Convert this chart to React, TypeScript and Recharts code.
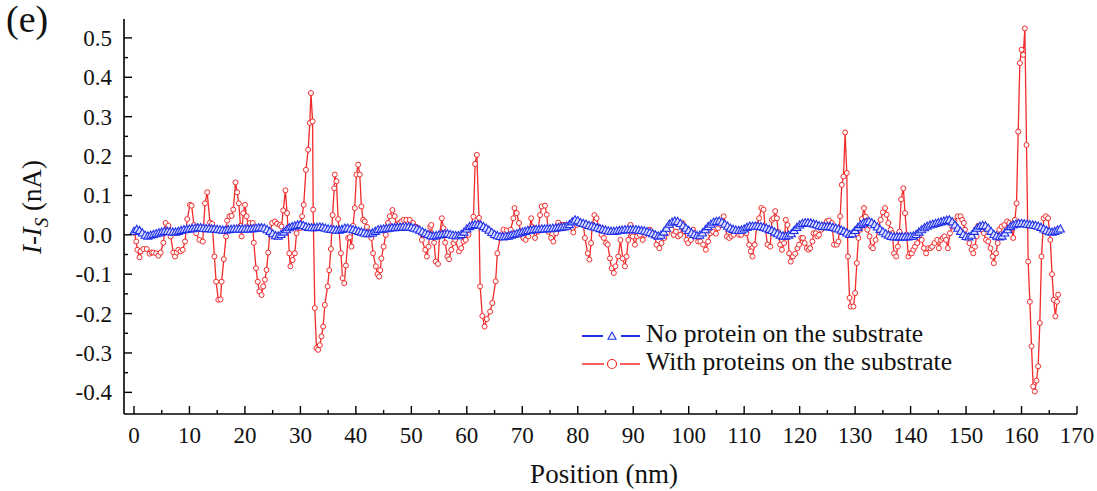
import React from "react";
import { LineChart, Line, XAxis, YAxis, Legend } from "recharts";

const RED = "#f22b2b";
const BLUE = "#2030ea";
const SERIF = "'Liberation Serif', 'DejaVu Serif', serif";
const txt = { fontFamily: SERIF, fill: "#111" };

const xTicks = [0, 5, 10, 15, 20, 25, 30, 35, 40, 45, 50, 55, 60, 65, 70, 75, 80, 85, 90, 95, 100, 105, 110, 115, 120, 125, 130, 135, 140, 145, 150, 155, 160, 165, 170];
const yTicks = [-0.4, -0.35, -0.3, -0.25, -0.2, -0.15, -0.1, -0.05, 0, 0.05, 0.1, 0.15, 0.2, 0.25, 0.3, 0.35, 0.4, 0.45, 0.5];

const seriesNames = ["No protein on the substrate", "With proteins on the substrate"];

// with proteins: [position nm, current nA]
const redPoints: [number, number][] = [
  [0.1, 0.005], [0.4, -0.017], [0.6, -0.038], [1.0, -0.057], [1.2, -0.042], [1.7, -0.036], [2.3, -0.036], [2.8, -0.048],
  [3.2, -0.045], [3.5, -0.045], [4.0, -0.047], [4.4, -0.053], [4.8, -0.045], [5.3, -0.02], [5.7, 0.03], [6.2, 0.023],
  [6.6, -0.004], [7.1, -0.045], [7.4, -0.055], [7.7, -0.045], [8.0, -0.038], [8.4, -0.042], [8.8, -0.038], [9.2, -0.017],
  [9.6, 0.04], [10.1, 0.076], [10.4, 0.074], [10.8, 0.025], [11.2, 0.004], [11.8, -0.013], [12.4, -0.017], [12.8, 0.08],
  [13.2, 0.108], [13.7, 0.031], [14.1, 0.028], [14.5, -0.055], [14.8, -0.119], [15.2, -0.165], [15.6, -0.164], [15.8, -0.119],
  [16.2, -0.062], [16.6, -0.004], [16.8, 0.036], [17.2, 0.047], [17.6, 0.048], [17.9, 0.064], [18.3, 0.133], [18.6, 0.108],
  [18.9, 0.08], [19.2, 0.023], [19.4, -0.004], [19.7, 0.055], [20.0, 0.076], [20.3, 0.047], [20.6, 0.023], [20.9, 0.03],
  [21.4, 0.03], [21.6, -0.02], [22.0, -0.085], [22.3, -0.119], [22.6, -0.144], [23.0, -0.153], [23.3, -0.131], [23.6, -0.114],
  [23.9, -0.089], [24.2, -0.045], [24.5, 0.004], [24.9, 0.03], [25.4, 0.034], [25.8, 0.028], [26.3, 0.025], [26.6, 0.021],
  [26.9, 0.062], [27.3, 0.113], [27.6, 0.055], [28.0, -0.047], [28.2, -0.08], [28.6, -0.064], [29.0, -0.047], [29.3, 0.004],
  [29.9, 0.017], [30.3, 0.047], [30.6, 0.076], [31.0, 0.165], [31.4, 0.216], [31.7, 0.284], [31.9, 0.36], [32.2, 0.288],
  [32.3, 0.064], [32.6, -0.186], [32.9, -0.288], [33.2, -0.292], [33.5, -0.28], [33.8, -0.258], [34.1, -0.233], [34.4, -0.178],
  [34.9, -0.131], [35.2, -0.09], [35.5, -0.036], [35.8, 0.05], [36.1, 0.118], [36.2, 0.153], [36.5, 0.136], [36.8, 0.04],
  [37.3, -0.047], [37.6, -0.11], [37.9, -0.123], [38.2, -0.078], [38.6, -0.008], [38.9, -0.006], [39.2, -0.03], [39.5, 0.023],
  [39.8, 0.068], [40.1, 0.153], [40.4, 0.178], [40.7, 0.153], [41.0, 0.072], [41.3, 0.038], [41.6, 0.034], [42.0, 0.02],
  [42.4, 0.005], [42.8, -0.008], [43.1, -0.047], [43.6, -0.08], [43.9, -0.1], [44.2, -0.106], [44.4, -0.09], [44.6, -0.06],
  [45.0, -0.03], [45.4, 0.0], [45.8, 0.03], [46.1, 0.047], [46.6, 0.063], [47.0, 0.047], [47.3, 0.025], [47.8, 0.03],
  [48.2, 0.034], [48.6, 0.038], [49.1, 0.038], [49.7, 0.038], [50.3, 0.03], [50.9, 0.02], [51.5, 0.008], [51.9, -0.013],
  [52.5, -0.038], [52.8, -0.055], [53.1, -0.03], [53.4, 0.02], [53.6, 0.025], [53.8, 0.0], [54.1, -0.02], [54.4, -0.068],
  [54.8, -0.074], [55.1, 0.0], [55.5, 0.042], [55.8, 0.017], [56.1, -0.02], [56.5, -0.055], [56.8, -0.062], [57.2, -0.038],
  [57.6, -0.021], [57.9, -0.013], [58.6, -0.042], [59.0, -0.034], [59.4, -0.017], [59.8, -0.013], [60.3, 0.0], [60.6, 0.02],
  [61.2, 0.046], [61.5, 0.18], [61.8, 0.203], [62.2, 0.043], [62.4, -0.131], [62.8, -0.206], [63.2, -0.233], [63.6, -0.214],
  [64.2, -0.195], [64.6, -0.173], [65.2, -0.118], [65.5, -0.047], [66.0, -0.008], [66.6, 0.013], [67.2, 0.011], [67.9, 0.013],
  [68.4, 0.042], [68.6, 0.068], [69.0, 0.055], [69.4, 0.03], [69.8, 0.0], [70.2, -0.008], [70.6, -0.013], [71.1, -0.004],
  [71.6, 0.042], [71.8, 0.02], [72.3, -0.008], [72.8, 0.008], [73.2, 0.05], [73.5, 0.072], [74.1, 0.074], [74.4, 0.051],
  [74.7, 0.008], [75.2, -0.008], [75.6, -0.017], [76.1, 0.004], [76.5, 0.031], [77.0, 0.025], [77.4, 0.025], [77.7, 0.025],
  [78.3, 0.021], [79.2, 0.006], [79.8, 0.025], [80.4, 0.03], [81.0, 0.025], [81.3, -0.008], [81.8, -0.047], [82.1, -0.063],
  [82.4, -0.021], [82.6, 0.025], [83.0, 0.05], [83.4, 0.042], [83.8, 0.02], [84.3, 0.0], [84.7, -0.008], [85.1, -0.021],
  [85.4, -0.025], [85.8, -0.06], [86.1, -0.085], [86.5, -0.097], [86.8, -0.08], [87.3, -0.055], [87.7, -0.013], [88.1, -0.06],
  [88.5, -0.08], [88.8, -0.055], [89.1, -0.013], [89.5, 0.025], [89.9, -0.004], [90.3, -0.025], [90.7, -0.004], [91.2, 0.0],
  [91.7, -0.013], [92.1, 0.0], [92.5, 0.008], [93.0, 0.013], [93.5, 0.004], [93.9, -0.004], [94.2, -0.025], [94.7, -0.034],
  [95.1, -0.021], [95.6, -0.008], [96.1, 0.004], [96.5, 0.017], [96.9, 0.013], [97.3, 0.0], [97.7, 0.008], [98.1, -0.004],
  [98.5, 0.0], [98.9, 0.03], [99.3, 0.008], [99.6, -0.013], [99.9, -0.021], [100.4, -0.013], [100.8, 0.013], [101.3, 0.0],
  [101.7, -0.017], [102.1, -0.017], [102.6, -0.025], [103.1, -0.038], [103.5, -0.017], [103.9, 0.004], [104.4, 0.008], [104.9, 0.003],
  [105.3, 0.017], [105.8, 0.025], [106.3, 0.047], [106.6, 0.025], [106.9, -0.004], [107.3, -0.008], [107.7, -0.003], [108.1, 0.0],
  [108.6, 0.008], [109.1, 0.0], [109.5, 0.0], [109.9, 0.008], [110.4, 0.004], [110.9, -0.025], [111.2, -0.042], [111.5, -0.055],
  [111.9, -0.025], [112.3, 0.025], [112.7, 0.042], [113.1, 0.068], [113.5, 0.064], [113.8, 0.017], [114.2, -0.025], [114.7, -0.03],
  [115.0, 0.038], [115.3, 0.042], [115.6, 0.06], [115.9, 0.042], [116.1, 0.008], [116.5, -0.025], [116.8, -0.038], [117.2, -0.021],
  [117.5, 0.038], [117.8, 0.025], [118.1, -0.047], [118.4, -0.068], [118.8, -0.055], [119.2, -0.048], [119.6, -0.034], [119.9, -0.025],
  [120.3, -0.008], [120.6, -0.008], [120.9, -0.021], [121.3, -0.034], [121.6, -0.038], [121.9, -0.034], [122.3, -0.017], [122.5, 0.004],
  [122.9, 0.004], [123.2, -0.004], [123.5, 0.0], [123.9, 0.013], [124.4, 0.025], [124.9, 0.034], [125.3, 0.036], [125.8, 0.03],
  [126.2, -0.025], [126.7, -0.025], [127.0, -0.017], [127.3, 0.047], [127.6, 0.127], [127.9, 0.148], [128.2, 0.26], [128.5, 0.157],
  [128.7, -0.055], [129.0, -0.16], [129.2, -0.182], [129.7, -0.182], [130.0, -0.148], [130.3, -0.072], [130.6, -0.008], [130.9, 0.013],
  [131.2, 0.04], [131.6, 0.068], [131.9, 0.046], [132.2, 0.013], [132.6, -0.004], [132.9, -0.03], [133.2, -0.034], [133.7, -0.013],
  [134.2, 0.017], [134.6, 0.038], [135.0, 0.057], [135.4, 0.068], [135.7, 0.051], [136.0, 0.03], [136.4, 0.013], [136.7, 0.004],
  [137.0, -0.047], [137.4, -0.055], [137.7, -0.03], [138.0, 0.008], [138.3, 0.09], [138.7, 0.118], [139.0, 0.055], [139.3, 0.0],
  [139.6, -0.055], [139.9, -0.047], [140.2, -0.047], [140.5, -0.038], [140.8, -0.03], [141.2, -0.021], [141.6, -0.008], [142.0, -0.013],
  [142.4, -0.034], [142.8, -0.047], [143.2, -0.034], [143.6, -0.034], [143.9, -0.03], [144.3, -0.021], [144.8, -0.013], [145.1, -0.034],
  [145.5, -0.013], [145.8, -0.008], [146.1, -0.004], [146.4, -0.013], [146.7, -0.034], [147.1, 0.004], [147.5, 0.021], [147.9, 0.034],
  [148.5, 0.047], [149.0, 0.047], [149.3, 0.038], [149.6, 0.03], [149.8, 0.013], [150.2, -0.004], [150.6, -0.021], [151.0, -0.038],
  [151.3, -0.047], [151.6, -0.03], [151.9, -0.004], [152.2, 0.023], [152.5, 0.021], [152.8, 0.013], [153.2, 0.004], [153.6, -0.013],
  [154.0, -0.017], [154.4, -0.034], [154.8, -0.055], [155.0, -0.072], [155.4, -0.047], [155.7, -0.021], [156.0, 0.013], [156.4, 0.021],
  [156.9, 0.025], [157.4, 0.034], [157.8, 0.03], [158.2, 0.017], [158.5, -0.008], [158.8, 0.038], [159.1, 0.08], [159.4, 0.262],
  [159.7, 0.436], [160.0, 0.47], [160.3, 0.457], [160.6, 0.524], [160.9, 0.228], [161.2, -0.068], [161.5, -0.17], [161.8, -0.283],
  [162.1, -0.385], [162.4, -0.398], [162.7, -0.37], [163.0, -0.334], [163.3, -0.224], [163.6, -0.055], [164.0, 0.042], [164.4, 0.047],
  [164.8, 0.042], [165.2, -0.013], [165.5, -0.1], [165.8, -0.165], [166.1, -0.207], [166.4, -0.17], [166.6, -0.152],
];

// no protein: sampled every 0.5 nm from 0 to 167
const BLUE_STEP = 0.5;
const blueValues = [
  0.008, 0.013, 0.01, 0.004, -0.002, -0.004, -0.002, 0.0, 0.002, 0.004, 0.006, 0.008, 0.008, 0.007, 0.006, 0.006, 0.008, 0.01, 0.012, 0.013,
  0.014, 0.015, 0.016, 0.017, 0.017, 0.016, 0.015, 0.015, 0.014, 0.014, 0.013, 0.012, 0.011, 0.011, 0.012, 0.013, 0.014, 0.014, 0.014, 0.014,
  0.014, 0.014, 0.014, 0.015, 0.016, 0.017, 0.017, 0.016, 0.012, 0.008, 0.002, -0.003, -0.004, 0.0, 0.006, 0.012, 0.017, 0.02, 0.022, 0.024,
  0.025, 0.023, 0.02, 0.018, 0.017, 0.017, 0.018, 0.019, 0.018, 0.016, 0.014, 0.013, 0.012, 0.011, 0.011, 0.013, 0.016, 0.016, 0.014, 0.012,
  0.01, 0.008, 0.006, 0.004, 0.002, 0.002, 0.004, 0.008, 0.012, 0.013, 0.014, 0.015, 0.016, 0.017, 0.017, 0.018, 0.018, 0.019, 0.019, 0.019,
  0.018, 0.016, 0.014, 0.011, 0.007, 0.003, 0.0, -0.003, -0.004, -0.003, -0.001, 0.0, 0.001, 0.002, 0.0, -0.002, -0.003, -0.003, 0.0, 0.006,
  0.014, 0.02, 0.023, 0.025, 0.025, 0.024, 0.02, 0.016, 0.011, 0.005, 0.0, -0.003, -0.005, -0.006, -0.005, -0.004, -0.002, 0.0, 0.002, 0.004,
  0.006, 0.008, 0.01, 0.011, 0.012, 0.013, 0.013, 0.014, 0.014, 0.015, 0.015, 0.016, 0.016, 0.017, 0.018, 0.019, 0.021, 0.025, 0.032, 0.037,
  0.035, 0.03, 0.028, 0.026, 0.023, 0.021, 0.019, 0.017, 0.015, 0.013, 0.011, 0.009, 0.008, 0.008, 0.009, 0.01, 0.011, 0.012, 0.012, 0.012,
  0.012, 0.012, 0.011, 0.01, 0.009, 0.007, 0.005, 0.002, -0.001, -0.004, -0.002, 0.006, 0.016, 0.026, 0.031, 0.034, 0.033, 0.028, 0.022, 0.016,
  0.01, 0.004, 0.0, -0.003, -0.002, 0.004, 0.012, 0.02, 0.026, 0.031, 0.033, 0.034, 0.031, 0.026, 0.021, 0.016, 0.013, 0.011, 0.01, 0.011,
  0.014, 0.018, 0.021, 0.021, 0.021, 0.021, 0.02, 0.018, 0.016, 0.013, 0.01, 0.006, 0.002, -0.002, -0.004, -0.004, -0.002, 0.002, 0.01, 0.018,
  0.024, 0.028, 0.03, 0.03, 0.029, 0.027, 0.025, 0.022, 0.021, 0.02, 0.02, 0.02, 0.018, 0.016, 0.014, 0.011, 0.008, 0.004, 0.0, 0.002,
  0.01, 0.018, 0.025, 0.029, 0.031, 0.033, 0.03, 0.025, 0.019, 0.013, 0.007, 0.002, -0.002, -0.005, -0.006, -0.006, -0.006, -0.006, -0.006, -0.006,
  -0.005, -0.004, 0.0, 0.006, 0.012, 0.017, 0.021, 0.024, 0.026, 0.028, 0.03, 0.032, 0.034, 0.036, 0.037, 0.032, 0.024, 0.016, 0.008, 0.0,
  -0.005, -0.006, -0.002, 0.008, 0.016, 0.021, 0.023, 0.022, 0.016, 0.008, 0.0, -0.004, -0.006, -0.004, 0.004, 0.012, 0.02, 0.024, 0.026, 0.028,
  0.028, 0.027, 0.026, 0.025, 0.024, 0.023, 0.021, 0.018, 0.014, 0.01, 0.007, 0.006, 0.008, 0.011, 0.014,
];

const redData = redPoints.map(([x, y]) => ({ x, y }));
const blueData = blueValues.map((y, i) => ({ x: i * BLUE_STEP, y }));

const isMajorX = (v: number) => v % 10 === 0;
const isMajorY = (v: number) => Math.abs(Math.round(v * 10) - v * 10) < 1e-6;

function BottomTick({ x, y, payload }: any) {
  const major = isMajorX(payload.value);
  return (
    <g>
      <line x1={x} x2={x} y1={y} y2={y - (major ? 8 : 4)} stroke="#000" strokeWidth={1.4} />
      {major && (
        <text x={x} y={y + 29} textAnchor="middle" style={{ ...txt, fontSize: 23 }}>
          {payload.value}
        </text>
      )}
    </g>
  );
}

function TopTick({ x, y, payload }: any) {
  const major = isMajorX(payload.value);
  return <line x1={x} x2={x} y1={y} y2={y + (major ? 8 : 4)} stroke="#000" strokeWidth={1.4} />;
}

function LeftTick({ x, y, payload }: any) {
  const major = isMajorY(payload.value);
  return (
    <g>
      <line x1={x} x2={x + (major ? 8 : 4)} y1={y} y2={y} stroke="#000" strokeWidth={1.4} />
      {major && (
        <text x={x - 12} y={y} dy="0.35em" textAnchor="end" style={{ ...txt, fontSize: 23 }}>
          {payload.value.toFixed(1)}
        </text>
      )}
    </g>
  );
}

function RightTick({ x, y, payload }: any) {
  const major = isMajorY(payload.value);
  return <line x1={x} x2={x - (major ? 8 : 4)} y1={y} y2={y} stroke="#000" strokeWidth={1.4} />;
}

function Triangle({ cx, cy, size = 4.5, fill = "#dfe2ff" }: any) {
  if (cx == null || cy == null) return null;
  return (
    <path
      d={`M${cx},${cy - size} L${cx + size * 0.9},${cy + size * 0.6} L${cx - size * 0.9},${cy + size * 0.6} Z`}
      fill={fill}
      stroke={BLUE}
      strokeWidth={1.1}
    />
  );
}

function YTitle() {
  const cx = 41;
  const cy = 207;
  return (
    <text x={cx} y={cy} transform={`rotate(-90 ${cx} ${cy})`} textAnchor="middle" style={{ ...txt, fontSize: 27 }}>
      <tspan fontStyle="italic">I-I</tspan>
      <tspan fontStyle="italic" fontSize={19} dy={7}>S</tspan>
      <tspan dy={-7}> (nA)</tspan>
    </text>
  );
}

function XTitle() {
  return (
    <text x={604} y={483} textAnchor="middle" style={{ ...txt, fontSize: 27 }}>
      Position (nm)
    </text>
  );
}

function LegendBox() {
  return (
    <svg width={420} height={64} style={{ fontFamily: SERIF }}>
      <line x1={7} x2={28} y1={18} y2={18} stroke={BLUE} strokeWidth={2} />
      <line x1={46} x2={65} y1={18} y2={18} stroke={BLUE} strokeWidth={2} />
      <Triangle cx={37} cy={18.5} size={4.5} fill="#eef0ff" />
      <text x={71} y={24} style={{ ...txt, fontSize: 25.6 }}>{seriesNames[0]}</text>
      <line x1={7} x2={29} y1={46} y2={46} stroke={RED} strokeWidth={1.5} />
      <line x1={45} x2={65} y1={46} y2={46} stroke={RED} strokeWidth={1.5} />
      <circle cx={37} cy={46} r={4.5} fill="#fff" stroke={RED} strokeWidth={1.2} />
      <text x={71} y={52} style={{ ...txt, fontSize: 25.6 }}>{seriesNames[1]}</text>
    </svg>
  );
}

export default function App() {
  const axisLine = { stroke: "#000", strokeWidth: 1.6 };
  return (
    <div style={{ position: "absolute", left: 0, top: 0, width: 1097, height: 491, background: "#fff", fontFamily: SERIF }}>
      <LineChart width={1097} height={491} margin={{ top: 19, right: 20, bottom: 0, left: 0 }} style={{ fontFamily: SERIF }}>
        <XAxis
          xAxisId="b"
          type="number"
          dataKey="x"
          domain={[-1.8, 170]}
          allowDataOverflow
          ticks={xTicks}
          interval={0}
          tickSize={0}
          tickMargin={0}
          tickLine={false}
          tick={<BottomTick />}
          axisLine={axisLine}
          height={77}
          label={<XTitle />}
        />
        <XAxis
          xAxisId="t"
          orientation="top"
          type="number"
          dataKey="x"
          domain={[-1.8, 170]}
          allowDataOverflow
          ticks={xTicks}
          interval={0}
          tickSize={0}
          tickMargin={0}
          tickLine={false}
          tick={<TopTick />}
          axisLine={axisLine}
          height={0}
        />
        <YAxis
          yAxisId="l"
          type="number"
          domain={[-0.455, 0.548]}
          allowDataOverflow
          ticks={yTicks}
          interval={0}
          tickSize={0}
          tickMargin={0}
          tickLine={false}
          tick={<LeftTick />}
          axisLine={axisLine}
          width={124}
          label={<YTitle />}
        />
        <YAxis
          yAxisId="r"
          orientation="right"
          type="number"
          domain={[-0.455, 0.548]}
          allowDataOverflow
          ticks={yTicks}
          interval={0}
          tickSize={0}
          tickMargin={0}
          tickLine={false}
          tick={<RightTick />}
          axisLine={axisLine}
          width={0}
        />
        <Line
          xAxisId="b"
          yAxisId="l"
          data={redData}
          dataKey="y"
          name={seriesNames[1]}
          stroke={RED}
          strokeWidth={1.3}
          dot={{ r: 2.5, stroke: RED, strokeWidth: 1, fill: "#fff" }}
          isAnimationActive={false}
        />
        <Line
          xAxisId="b"
          yAxisId="l"
          data={blueData}
          dataKey="y"
          name={seriesNames[0]}
          stroke={BLUE}
          strokeWidth={2.8}
          dot={(p: any) => <Triangle key={`b${p.index}`} cx={p.cx} cy={p.cy} />}
          isAnimationActive={false}
        />
        <Legend
          layout="horizontal"
          verticalAlign="middle"
          align="center"
          content={() => <LegendBox />}
          wrapperStyle={{ left: 575, top: 318, width: 420, height: 64 }}
        />
      </LineChart>
      <div
        style={{
          position: "absolute",
          left: 6,
          top: -1,
          fontFamily: SERIF,
          fontSize: 38,
          lineHeight: "40px",
          color: "#111",
        }}
      >
        (e)
      </div>
    </div>
  );
}
